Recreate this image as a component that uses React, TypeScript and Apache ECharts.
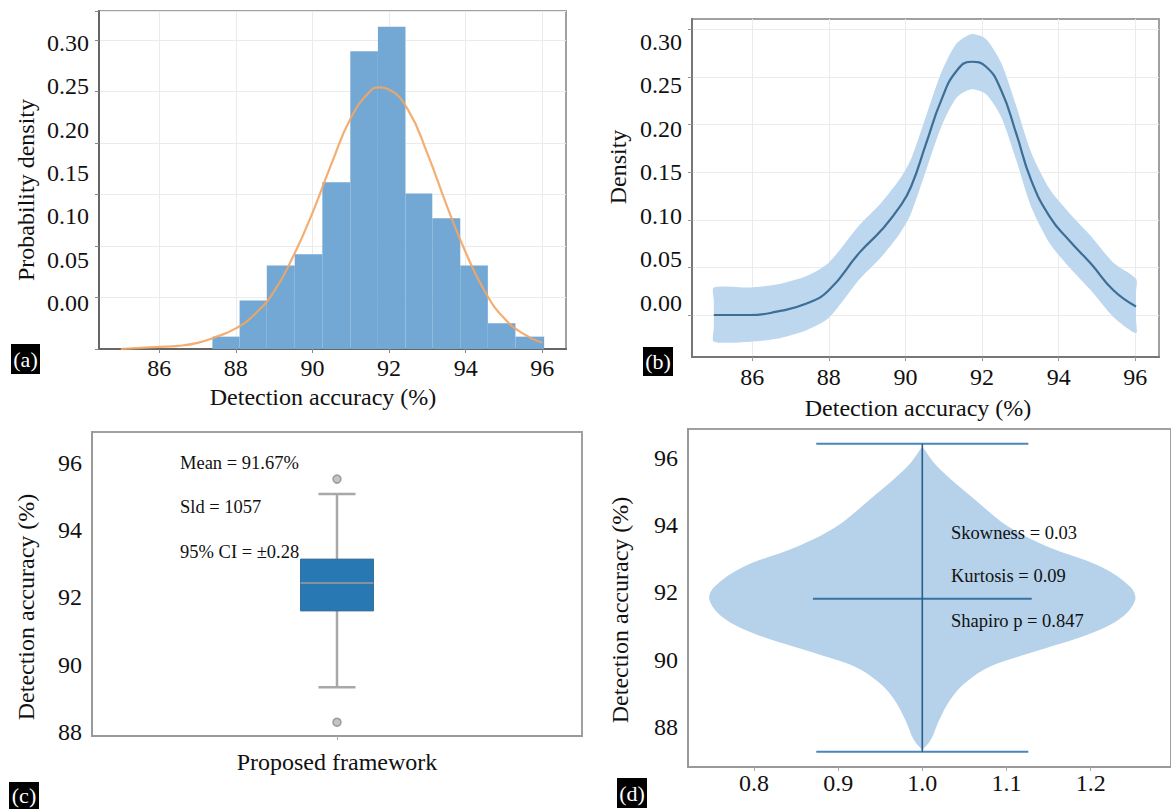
import React, { useEffect, useRef } from 'react';
import * as echarts from 'echarts';

const FONT = '"Liberation Serif", "Times New Roman", serif';

// ---------- tick labels ----------
const X_TICKS = [86, 88, 90, 92, 94, 96];
const DENSITY_TICKS = [0, 0.05, 0.1, 0.15, 0.2, 0.25, 0.3];
const ACC_TICKS = [88, 90, 92, 94, 96];
const VIOLIN_X_TICKS = [0.8, 0.9, 1.0, 1.1, 1.2];
const BOX_CATEGORIES = ['Proposed framework'];

// ---------- (a) histogram + normal fit ----------
const HIST_EDGES = [87.39, 88.1, 88.81, 89.54, 90.26, 90.99, 91.71, 92.43, 93.13, 93.86, 94.58, 95.3, 96.05];
const HIST_HEIGHTS = [0.012, 0.047, 0.081, 0.092, 0.162, 0.289, 0.313, 0.151, 0.127, 0.081, 0.025, 0.012];
const FIT_X = [85, 85.5, 86, 86.5, 87, 87.5, 88, 88.5, 89, 89.5, 90, 90.5, 91, 91.5, 91.75, 92, 92.5, 93, 93.5, 94, 94.5, 95, 95.5, 96];
const FIT_Y = [0.0, 0.001, 0.002, 0.003, 0.006, 0.012, 0.02, 0.034, 0.056, 0.09, 0.132, 0.18, 0.224, 0.25, 0.254, 0.252, 0.232, 0.19, 0.14, 0.094, 0.056, 0.03, 0.015, 0.006];

// ---------- (b) KDE with confidence band ----------
const KDE_X = [85.0, 85.95, 86.64, 87.42, 88.0, 88.79, 89.37, 89.86, 90.15, 90.54, 90.94, 91.33, 91.72, 92.1, 92.5, 92.89, 93.28, 93.77, 94.26, 94.84, 95.43, 96.02];
const KDE_Y = [0.0, 0.0, 0.0035, 0.012, 0.026, 0.065, 0.089, 0.114, 0.135, 0.18, 0.226, 0.256, 0.266, 0.261, 0.236, 0.191, 0.142, 0.103, 0.079, 0.054, 0.026, 0.009];
const KDE_LOW = [-0.028, -0.028, -0.025, -0.016, -0.003, 0.037, 0.061, 0.086, 0.107, 0.152, 0.198, 0.228, 0.237, 0.232, 0.208, 0.163, 0.114, 0.075, 0.051, 0.026, -0.002, -0.019];
const KDE_HIGH = [0.029, 0.029, 0.032, 0.041, 0.055, 0.094, 0.118, 0.143, 0.164, 0.209, 0.255, 0.285, 0.295, 0.29, 0.265, 0.22, 0.171, 0.132, 0.108, 0.083, 0.055, 0.038];

// ---------- (c) box plot ----------
const BOX_STATS = [89.33, 91.6, 92.43, 93.14, 95.08]; // lower whisker, Q1, median, Q3, upper whisker
const BOX_OUTLIERS = [95.52, 88.29];
const BOX_NOTES = ['Mean = 91.67%', 'Sld = 1057', '95% CI = ±0.28'];

// ---------- (d) violin ----------
const VIOLIN_CENTER = 1.0;
const VIOLIN_Y = [96.34, 95.74, 94.75, 93.96, 93.36, 92.76, 92.17, 91.79, 91.28, 90.78, 90.19, 89.79, 89.29, 88.8, 88.2, 87.61, 87.31];
const VIOLIN_HALF = [0, 0.018, 0.063, 0.102, 0.149, 0.213, 0.247, 0.253, 0.238, 0.2, 0.127, 0.08, 0.05, 0.033, 0.02, 0.01, 0];
const VIOLIN_MAX = 96.42;
const VIOLIN_MIN = 87.26;
const VIOLIN_MEAN = 91.81;
const VIOLIN_BAR_HALF = 0.126;
const VIOLIN_MEAN_HALF = 0.13;
const VIOLIN_NOTES = ['Skowness = 0.03', 'Kurtosis = 0.09', 'Shapiro p = 0.847'];

const tickStyle = { fontFamily: FONT, fontSize: 24, color: '#111' };

function panelLabel(text: string, x: number, y: number, w: number, h: number) {
  return {
    type: 'group',
    z: 100,
    children: [
      { type: 'rect', z: 100, shape: { x, y, width: w, height: h }, style: { fill: '#000' } },
      {
        type: 'text',
        z: 101,
        x: x + w / 2,
        y: y + h / 2,
        style: { text, fill: '#fff', font: `22px ${FONT}`, align: 'center', verticalAlign: 'middle' },
      },
    ],
  };
}

function title(text: string, x: number, y: number, rotate: boolean) {
  return {
    type: 'text',
    z: 100,
    x,
    y,
    rotation: rotate ? Math.PI / 2 : 0,
    style: { text, fill: '#111', font: `24px ${FONT}`, align: 'center', verticalAlign: 'middle' },
  };
}

function note(text: string, x: number, y: number, size: number) {
  return {
    type: 'text',
    z: 100,
    x,
    y,
    style: { text, fill: '#111', font: `${size}px ${FONT}`, align: 'left', verticalAlign: 'middle' },
  };
}

export default function App() {
  const ref = useRef<HTMLDivElement>(null);

  useEffect(() => {
    document.body.style.margin = '0';
    if (!ref.current) return;
    const chart = echarts.init(ref.current, undefined, { renderer: 'svg' });

    const gridBorder = { show: true, borderColor: '#a0a0a0', borderWidth: 2, backgroundColor: '#fff' };
    const splitLight = { show: true, lineStyle: { color: '#ebebeb', width: 1 } };

    const option: any = {
      animation: false,
      backgroundColor: '#fff',
      textStyle: { fontFamily: FONT },
      grid: [
        { left: 99, top: 11, width: 467, height: 338, ...gridBorder },
        { left: 692, top: 19, width: 467, height: 338, ...gridBorder },
        { left: 92, top: 432, width: 490, height: 304, ...gridBorder },
        { left: 688, top: 429, width: 510, height: 338, ...gridBorder },
      ],
      xAxis: [
        {
          gridIndex: 0, type: 'value', min: 84.43, max: 96.62,
          axisLine: { show: true, onZero: false, lineStyle: { color: '#666', width: 2 } },
          axisTick: { show: true, customValues: X_TICKS, length: 4, lineStyle: { color: '#888' } },
          axisLabel: { customValues: X_TICKS, margin: 7, ...tickStyle, formatter: (v: number) => String(v) },
          splitLine: splitLight,
        },
        {
          gridIndex: 1, type: 'value', min: 84.43, max: 96.62,
          axisLine: { show: true, onZero: false, lineStyle: { color: '#777', width: 2 } },
          axisTick: { show: true, customValues: X_TICKS, length: 4, lineStyle: { color: '#999' } },
          axisLabel: { customValues: X_TICKS, margin: 8, ...tickStyle, formatter: (v: number) => String(v) },
          splitLine: splitLight,
        },
        {
          gridIndex: 2, type: 'category', data: BOX_CATEGORIES, boundaryGap: true,
          axisLine: { show: true, onZero: false, lineStyle: { color: '#999', width: 2 } },
          axisTick: { show: true, alignWithLabel: true, length: 4, lineStyle: { color: '#aaa' } },
          axisLabel: { margin: 14, ...tickStyle },
          splitLine: { show: false },
        },
        {
          gridIndex: 3, type: 'value', min: 0.7216, max: 1.2955,
          axisLine: { show: true, onZero: false, lineStyle: { color: '#999', width: 2 } },
          axisTick: { show: true, customValues: VIOLIN_X_TICKS, length: 4, lineStyle: { color: '#aaa' } },
          axisLabel: { customValues: VIOLIN_X_TICKS, margin: 4, ...tickStyle, formatter: (v: number) => v.toFixed(1) },
          splitLine: { show: false },
        },
      ],
      yAxis: [
        {
          gridIndex: 0, type: 'value', position: 'left', min: 0, max: 0.3282, interval: 0.05,
          axisLine: { show: true, onZero: false, lineStyle: { color: '#666', width: 2 } },
          axisTick: { show: true, length: 4, lineStyle: { color: '#888' } },
          axisLabel: { show: false },
          splitLine: splitLight,
        },
        {
          gridIndex: 0, type: 'value', position: 'left', min: -0.0531, max: 0.3369,
          axisLine: { show: false }, axisTick: { show: false }, splitLine: { show: false },
          axisLabel: { customValues: DENSITY_TICKS, margin: 10, ...tickStyle, formatter: (v: number) => v.toFixed(2) },
        },
        {
          gridIndex: 1, type: 'value', position: 'left', min: -0.0441, max: 0.3109,
          axisLine: { show: true, onZero: false, lineStyle: { color: '#777', width: 2 } },
          axisTick: { show: true, customValues: DENSITY_TICKS, length: 4, lineStyle: { color: '#999' } },
          axisLabel: { show: false, customValues: DENSITY_TICKS },
          splitLine: splitLight,
        },
        {
          gridIndex: 1, type: 'value', position: 'left', min: -0.0621, max: 0.3264,
          axisLine: { show: false }, axisTick: { show: false }, splitLine: { show: false },
          axisLabel: { customValues: DENSITY_TICKS, margin: 10, ...tickStyle, formatter: (v: number) => v.toFixed(2) },
        },
        {
          gridIndex: 2, type: 'value', position: 'left', min: 87.88, max: 96.92,
          axisLine: { show: true, onZero: false, lineStyle: { color: '#999', width: 2 } },
          axisTick: { show: false },
          axisLabel: { customValues: ACC_TICKS, margin: 10, ...tickStyle, formatter: (v: number) => String(v) },
          splitLine: { show: false },
        },
        {
          gridIndex: 3, type: 'value', position: 'left', min: 86.81, max: 96.86,
          axisLine: { show: true, onZero: false, lineStyle: { color: '#999', width: 2 } },
          axisTick: { show: false },
          axisLabel: { customValues: ACC_TICKS, margin: 10, ...tickStyle, formatter: (v: number) => String(v) },
          splitLine: { show: false },
        },
      ],
      series: [
        // (a) histogram
        {
          type: 'custom', xAxisIndex: 0, yAxisIndex: 0,
          data: HIST_HEIGHTS.map((h, i) => [HIST_EDGES[i], HIST_EDGES[i + 1], h]),
          encode: { x: [0, 1], y: 2 },
          renderItem: (_p: any, api: any) => {
            const a = api.coord([api.value(0), api.value(2)]);
            const b = api.coord([api.value(1), 0]);
            return {
              type: 'rect',
              shape: { x: a[0], y: a[1], width: b[0] - a[0], height: b[1] - a[1] },
              style: { fill: '#72a8d3' },
            };
          },
        },
        // (a) normal fit
        {
          type: 'line', xAxisIndex: 0, yAxisIndex: 0, smooth: true, showSymbol: false,
          data: FIT_X.map((x, i) => [x, FIT_Y[i]]),
          lineStyle: { color: '#f2a564', width: 2.2, opacity: 0.9 },
          z: 3,
        },
        // (b) confidence band
        {
          type: 'custom', xAxisIndex: 1, yAxisIndex: 2,
          data: KDE_X.map((x, i) => [x, KDE_LOW[i], KDE_HIGH[i]]),
          encode: { x: 0, y: [1, 2] },
          renderItem: (p: any, api: any) => {
            if (p.dataIndex !== 0) return null;
            const n = KDE_X.length;
            const up = KDE_X.map((x, i) => api.coord([x, KDE_HIGH[i]]));
            const lo = KDE_X.map((x, i) => api.coord([x, KDE_LOW[i]])).reverse();
            // straight vertical ends: add intermediate points on each end
            const endR = [0.25, 0.5, 0.75].map((t) =>
              api.coord([KDE_X[n - 1], KDE_HIGH[n - 1] + (KDE_LOW[n - 1] - KDE_HIGH[n - 1]) * t]));
            const endL = [0.25, 0.5, 0.75].map((t) =>
              api.coord([KDE_X[0], KDE_LOW[0] + (KDE_HIGH[0] - KDE_LOW[0]) * t]));
            return {
              type: 'polygon',
              shape: { points: [...up, ...endR, ...lo, ...endL], smooth: 0.25 },
              style: { fill: '#bcd7ee' },
            };
          },
        },
        // (b) KDE line
        {
          type: 'line', xAxisIndex: 1, yAxisIndex: 2, smooth: true, showSymbol: false,
          data: KDE_X.map((x, i) => [x, KDE_Y[i]]),
          lineStyle: { color: '#3d6e96', width: 2.2 },
          z: 3,
        },
        // (c) box plot
        {
          type: 'custom', xAxisIndex: 2, yAxisIndex: 4,
          data: [[0, ...BOX_STATS]],
          encode: { x: 0, y: [1, 2, 3, 4, 5] },
          renderItem: (_p: any, api: any) => {
            const c = api.coord([0, BOX_STATS[0]])[0];
            const y = (v: number) => api.coord([0, v])[1];
            const bw = 73, cw = 37;
            const wStyle = { stroke: '#a8a8a8', lineWidth: 2.5 };
            return {
              type: 'group',
              children: [
                { type: 'line', shape: { x1: c, y1: y(BOX_STATS[0]), x2: c, y2: y(BOX_STATS[1]) }, style: wStyle },
                { type: 'line', shape: { x1: c, y1: y(BOX_STATS[3]), x2: c, y2: y(BOX_STATS[4]) }, style: wStyle },
                { type: 'line', shape: { x1: c - cw / 2, y1: y(BOX_STATS[0]), x2: c + cw / 2, y2: y(BOX_STATS[0]) }, style: wStyle },
                { type: 'line', shape: { x1: c - cw / 2, y1: y(BOX_STATS[4]), x2: c + cw / 2, y2: y(BOX_STATS[4]) }, style: wStyle },
                {
                  type: 'rect',
                  shape: { x: c - bw / 2, y: y(BOX_STATS[3]), width: bw, height: y(BOX_STATS[1]) - y(BOX_STATS[3]) },
                  style: { fill: '#2878b4', stroke: '#3a6f9a', lineWidth: 1 },
                },
                { type: 'line', shape: { x1: c - bw / 2, y1: y(BOX_STATS[2]), x2: c + bw / 2, y2: y(BOX_STATS[2]) }, style: { stroke: '#8a9099', lineWidth: 2 } },
              ],
            };
          },
        },
        // (c) outliers
        {
          type: 'scatter', xAxisIndex: 2, yAxisIndex: 4,
          data: BOX_OUTLIERS.map((v) => [0, v]),
          symbol: 'circle', symbolSize: 8,
          itemStyle: { color: '#b5b5b5', borderColor: '#8c8c8c', borderWidth: 1.5 },
        },
        // (d) violin body
        {
          type: 'custom', xAxisIndex: 3, yAxisIndex: 5,
          data: VIOLIN_Y.map((v, i) => [VIOLIN_CENTER + VIOLIN_HALF[i], v]),
          encode: { x: 0, y: 1 },
          renderItem: (p: any, api: any) => {
            if (p.dataIndex !== 0) return null;
            const right = VIOLIN_Y.map((v, i) => api.coord([VIOLIN_CENTER + VIOLIN_HALF[i], v]));
            const left = VIOLIN_Y.map((v, i) => api.coord([VIOLIN_CENTER - VIOLIN_HALF[i], v])).reverse();
            return {
              type: 'polygon',
              shape: { points: right.concat(left), smooth: 0.35 },
              style: { fill: '#b5d2ea' },
            };
          },
        },
        // (d) extrema, mean and vertical lines
        {
          type: 'custom', xAxisIndex: 3, yAxisIndex: 5,
          data: [
            [VIOLIN_CENTER - VIOLIN_BAR_HALF, VIOLIN_MAX, VIOLIN_CENTER + VIOLIN_BAR_HALF, VIOLIN_MAX, 0],
            [VIOLIN_CENTER - VIOLIN_BAR_HALF, VIOLIN_MIN, VIOLIN_CENTER + VIOLIN_BAR_HALF, VIOLIN_MIN, 0],
            [VIOLIN_CENTER - VIOLIN_MEAN_HALF, VIOLIN_MEAN, VIOLIN_CENTER + VIOLIN_MEAN_HALF, VIOLIN_MEAN, 1],
            [VIOLIN_CENTER, VIOLIN_MIN, VIOLIN_CENTER, VIOLIN_MAX, 2],
          ],
          encode: { x: [0, 2], y: [1, 3] },
          renderItem: (_p: any, api: any) => {
            const a = api.coord([api.value(0), api.value(1)]);
            const b = api.coord([api.value(2), api.value(3)]);
            const kind = api.value(4);
            const stroke = kind === 2 ? '#2d5e88' : kind === 1 ? '#3a70a2' : '#4a86bd';
            return {
              type: 'line',
              shape: { x1: a[0], y1: a[1], x2: b[0], y2: b[1] },
              style: { stroke, lineWidth: kind === 2 ? 1.6 : 2 },
            };
          },
          z: 4,
        },
      ],
      graphic: [
        title('Probability density', 26, 190, true),
        title('Density', 618, 167, true),
        title('Detection accuracy (%)', 323, 397, false),
        title('Detection accuracy (%)', 918, 408, false),
        title('Detection accuracy (%)', 26, 607, true),
        title('Detection accuracy (%)', 620, 610, true),
        note(BOX_NOTES[0], 180, 463, 18.5),
        note(BOX_NOTES[1], 180, 507, 18.5),
        note(BOX_NOTES[2], 180, 552, 18.5),
        note(VIOLIN_NOTES[0], 951, 533, 18.5),
        note(VIOLIN_NOTES[1], 951, 576, 18.5),
        note(VIOLIN_NOTES[2], 951, 621, 18.5),
        panelLabel('(a)', 11, 344, 29, 30),
        panelLabel('(b)', 643, 347, 30, 29),
        panelLabel('(c)', 9, 782, 30, 27),
        panelLabel('(d)', 617, 778, 30, 30),
      ],
    };

    chart.setOption(option);
    return () => chart.dispose();
  }, []);

  return <div ref={ref} style={{ width: 1171, height: 809 }} />;
}
